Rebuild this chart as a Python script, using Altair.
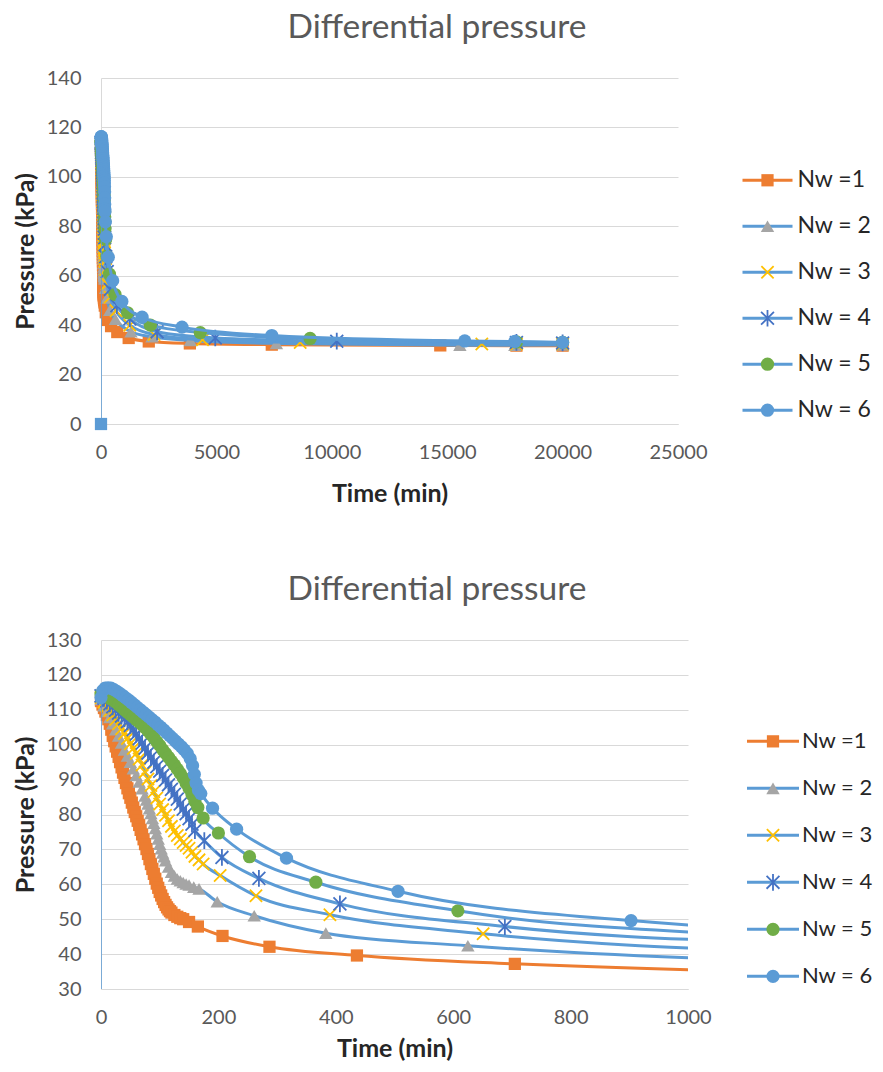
import altair as alt
import pandas as pd

# ---------------- data ----------------
chart_title = ["Differential pressure"]
names = ["Nw =1", "Nw = 2", "Nw = 3", "Nw = 4", "Nw = 5", "Nw = 6"]
line_colors = ["#ED7D31", "#5B9BD5", "#5B9BD5", "#5B9BD5", "#5B9BD5", "#5B9BD5"]
marker_colors = ["#ED7D31", "#A5A5A5", "#FFC000", "#4472C4", "#70AD47", "#5B9BD5"]
X_PATH = "M-1,-1L1,1M-1,1L1,-1"
STAR_PATH = "M-1,-1L1,1M-1,1L1,-1M0,-1.3L0,1.3"
marker_shapes = ["square", "triangle-up", X_PATH, STAR_PATH, "circle", "circle"]
marker_filled = [True, True, False, False, True, True]
marker_sizes = [150, 180, 150, 165, 175, 175]

t1 = [0, 2.5, 5, 7.5, 10, 12.5, 15, 17.5, 20, 22.5, 25, 27.5, 30, 32.5, 35, 37.5, 40,
      42.5, 45, 47.5, 50, 52.5, 55, 57.5, 60, 62.5, 65, 67.5, 70, 72.5, 75, 77.5, 80,
      82.5, 85, 87.5, 90, 92.5, 95, 97.5, 100, 102.5, 105, 107.5, 110, 112.5, 115,
      117.5, 120, 125, 130, 135, 140, 150, 165, 207, 287, 436, 705, 1200, 2070, 3850,
      7400, 14700, 18000, 20000]
p1 = [112.5, 111.5, 110.5, 109.5, 108.5, 107.3, 106, 104.3, 102.5, 101, 99.5, 98, 96.5,
      95, 93.5, 92, 90.5, 89, 87.5, 86.1, 84.8, 83.4, 82, 80.7, 79.5, 78.2, 77, 75.6,
      74.3, 72.9, 71.5, 70.1, 68.7, 67.2, 65.8, 64.4, 63, 61.6, 60.2, 59, 57.8, 56.8,
      55.8, 54.9, 54.1, 53.4, 52.8, 52.3, 51.9, 51.2, 50.7, 50.3, 50, 49.2, 47.9, 45.2,
      42.1, 39.6, 37.2, 34.8, 33.4, 32.6, 32.1, 31.8, 31.7, 31.7]

t2 = [0, 5, 10, 15, 20, 25, 30, 35, 40, 45, 50, 55, 60, 65, 70, 75, 77.5, 80, 82.5,
      85, 87.5, 90, 92.5, 95, 97.5, 100, 102.5, 105, 107.5, 110, 115, 120, 125, 130,
      135, 140, 145, 150, 158, 167, 198, 261, 383, 625, 1300, 2210, 3870, 7600, 15550,
      17930, 20000]
p2 = [113, 111.2, 109.5, 107.8, 106, 104.3, 102.5, 100.5, 98.5, 96.8, 95, 93.1, 91.2,
      89.3, 87.4, 85.3, 84.2, 83, 81.7, 80.3, 78.9, 77.5, 76, 74.5, 73, 71.5, 70.2, 69,
      67.9, 66.8, 65, 63.5, 62.4, 61.5, 61, 60.5, 60.1, 59.8, 59.2, 58.7, 55, 51, 46,
      42.4, 37.3, 35.3, 33.8, 32.6, 31.9, 31.9, 32]

t3 = [0, 5, 10, 15, 20, 25, 30, 35, 40, 45, 50, 55, 60, 65, 70, 75, 80, 85, 90, 95,
      100, 105, 110, 115, 120, 125, 130, 135, 140, 145, 150, 155, 160, 167, 174, 203,
      264, 390, 651, 1250, 2300, 4400, 8630, 16500, 18000, 20000]
p3 = [113.5, 112.2, 111, 109.8, 108.5, 107.2, 106, 104.6, 103.2, 101.8, 100.3, 98.9,
      97.5, 95.9, 94.2, 92.2, 90.2, 88.3, 86.5, 84.7, 83, 81.4, 79.8, 78.2, 76.6, 75.3,
      74, 73, 72, 71.1, 70.3, 69.2, 68, 67, 65.8, 62.5, 56.7, 51.3, 45.8, 40, 36.2,
      34.1, 33, 32.4, 32.4, 32.4]

t4 = [0, 5, 10, 15, 20, 25, 30, 35, 40, 45, 50, 55, 60, 65, 70, 75, 80, 85, 90, 95,
      100, 105, 110, 115, 120, 125, 130, 135, 140, 145, 150, 155, 160, 176, 206, 269,
      407, 688, 1250, 2430, 4950, 10215, 18000, 20000]
p4 = [114, 113.3, 112.5, 111.7, 110.8, 109.9, 109, 108.2, 107.4, 106.6, 105.5, 104.3,
      103, 101.7, 100.4, 99, 97.6, 96.3, 95, 93.7, 92.4, 91.2, 89.9, 88.5, 87.2, 85.8,
      84.4, 83, 81.5, 80.2, 78.8, 77.2, 75.4, 72.5, 67.7, 61.7, 54.4, 47.9, 42.5, 37.3,
      34.8, 33.5, 33, 32.8]

t5 = [0, 5, 10, 15, 20, 25, 30, 35, 40, 45, 50, 55, 60, 65, 70, 75, 80, 85, 90, 95,
      100, 105, 110, 115, 120, 125, 130, 135, 140, 145, 150, 155, 160, 165, 174, 200,
      253, 366, 608, 1150, 2140, 4300, 9060, 18000, 20000]
p5 = [114.5, 114.2, 113.8, 113.3, 112.8, 112.2, 111.5, 110.8, 110, 109.3, 108.6, 107.9,
      107.2, 106.5, 105.8, 104.9, 104, 103, 102, 100.9, 99.8, 98.6, 97.5, 96.4, 95.3,
      94.2, 93, 91.8, 90.5, 89, 87.5, 85.7, 83.8, 82, 79, 74.7, 67.9, 60.6, 52.4, 45,
      40, 37, 34.6, 33.2, 33]

t6 = [0, 0, 3, 7, 12, 17, 22, 27, 32, 37, 42, 47, 52, 57, 62, 67, 72, 77, 82, 87, 92,
      97, 102, 107, 112, 117, 122, 127, 132, 137, 142, 147, 152, 156, 159, 162, 166,
      170, 190, 231, 316, 506, 903, 1780, 3510, 7400, 15760, 17930, 20000]
p6 = [0, 113.5, 115.5, 116.2, 116.3, 116.2, 115.8, 115.3, 114.7, 114.1, 113.4, 112.8,
      112.1, 111.4, 110.7, 110, 109.3, 108.6, 107.9, 107.2, 106.5, 105.7, 105, 104.2,
      103.4, 102.6, 101.8, 101, 100.2, 99.4, 98.5, 97.5, 96, 94, 91.5, 89, 87, 86, 81.8,
      75.8, 67.5, 58, 49.6, 43.2, 39.2, 35.8, 33.6, 33.4, 33]

series_t = [t1, t2, t3, t4, t5, t6]
series_p = [p1, p2, p3, p4, p5, p6]

rows = []
for name, ts, ps in zip(names, series_t, series_p):
    for k, (t, p) in enumerate(zip(ts, ps)):
        rows.append({"series": name, "t": t, "p": p, "k": k})
df = pd.DataFrame(rows)
legend_df = pd.DataFrame({"name": names, "idx": list(range(len(names)))})
title_df = pd.DataFrame({"label": chart_title})

FONT = "Lato"
GRID = "#D9D9D9"


def panel(xdom, xvals, ydom, yvals, w, h, xtp):
    X = alt.X("t:Q", scale=alt.Scale(domain=xdom, nice=False, zero=False),
              axis=alt.Axis(values=xvals, format="d", grid=False, ticks=False,
                            labelFlush=False, domainColor=GRID, domainWidth=1,
                            labelColor="#595959", labelFont=FONT, labelFontSize=20,
                            labelPadding=18, title="Time (min)", titleFont=FONT,
                            titleFontSize=25, titleFontWeight="bold",
                            titleColor="#262626", titlePadding=xtp))
    Y = alt.Y("p:Q", scale=alt.Scale(domain=ydom, nice=False, zero=False),
              axis=alt.Axis(values=yvals, format="d", grid=True, gridColor=GRID,
                            gridWidth=1, ticks=False, domainColor=GRID,
                            labelColor="#595959", labelFont=FONT, labelFontSize=20,
                            labelPadding=20, title="Pressure (kPa)", titleFont=FONT,
                            titleFontSize=25, titleFontWeight="bold",
                            titleColor="#262626", titlePadding=8))
    inside = ((alt.datum.t >= xdom[0]) & (alt.datum.t <= xdom[1]) &
              (alt.datum.p >= ydom[0]) & (alt.datum.p <= ydom[1]))
    layers = []
    for i, name in enumerate(names):
        base = alt.Chart(df).transform_filter(alt.datum.series == name)
        if i == 5:
            layers.append(base.transform_filter(alt.datum.t == 0).mark_line(
                color=line_colors[i], strokeWidth=1.5, clip=True).encode(
                x=X, y=Y, order="k:Q"))
        layers.append(base.transform_filter(alt.datum.p > 0).mark_line(
            color=line_colors[i], strokeWidth=3, interpolate="monotone",
            clip=True).encode(x=X, y=Y, order="k:Q"))
        layers.append(base.transform_filter(alt.datum.p > 0).transform_filter(
            inside).mark_point(
            shape=marker_shapes[i], filled=marker_filled[i], color=marker_colors[i],
            size=marker_sizes[i], strokeWidth=1.8, opacity=1).encode(x=X, y=Y))
        if i == 5:
            layers.append(base.transform_filter(alt.datum.p == 0).transform_filter(
                inside).mark_point(
                shape="square", filled=True, color=line_colors[i], size=150,
                opacity=1).encode(x=X, y=Y))
    return alt.layer(*layers).properties(width=w, height=h)


def legend(h, ydom, x0, x1, xt, fs):
    base = alt.Chart(legend_df).encode(
        y=alt.Y("idx:Q", scale=alt.Scale(domain=ydom, reverse=True, nice=False,
                                         zero=False), axis=None))
    layers = [base.mark_rule(strokeWidth=3).encode(
        x=alt.value(x0), x2=alt.value(x1),
        color=alt.Color("name:N", scale=alt.Scale(domain=names, range=line_colors),
                        legend=None))]
    for i, name in enumerate(names):
        layers.append(base.transform_filter(alt.datum.name == name).mark_point(
            shape=marker_shapes[i], filled=marker_filled[i], color=marker_colors[i],
            size=marker_sizes[i], strokeWidth=1.8, opacity=1).encode(
            x=alt.value((x0 + x1) / 2)))
    layers.append(base.mark_text(align="left", baseline="middle", font=FONT,
                                 fontSize=fs, color="#262626").encode(
        x=alt.value(xt), text="name:N"))
    return alt.layer(*layers).properties(width=60, height=h)


def title_row(h, base_y):
    return alt.Chart(title_df).mark_text(
        font=FONT, fontSize=33.5, color="#595959", align="center",
        baseline="alphabetic").encode(
        text="label:N", x=alt.value(336), y=alt.value(base_y)
    ).properties(width=560, height=h)


top = alt.hconcat(
    panel([0, 25000], [0, 5000, 10000, 15000, 20000, 25000], [0, 140],
          [0, 20, 40, 60, 80, 100, 120, 140], 577, 346, 19),
    legend(346, [-2.224, 5.30], 7.5, 57.5, 62.5, 23),
    spacing=28,
)

bottom = alt.hconcat(
    panel([0, 1000], [0, 200, 400, 600, 800, 1000], [30, 130],
          [30, 40, 50, 60, 70, 80, 90, 100, 110, 120, 130], 587, 349, 9),
    legend(349, [-2.157, 5.27], 7, 59, 62, 22),
    spacing=28,
)

chart = alt.vconcat(title_row(59.3, 30.2), top, title_row(124, 93.7), bottom,
                    spacing=0).properties(
    padding={"left": 5, "top": 0, "right": 0, "bottom": 0}
).configure_view(stroke=None)

chart.save("out.html", embed_options={"renderer": "svg", "actions": False})
